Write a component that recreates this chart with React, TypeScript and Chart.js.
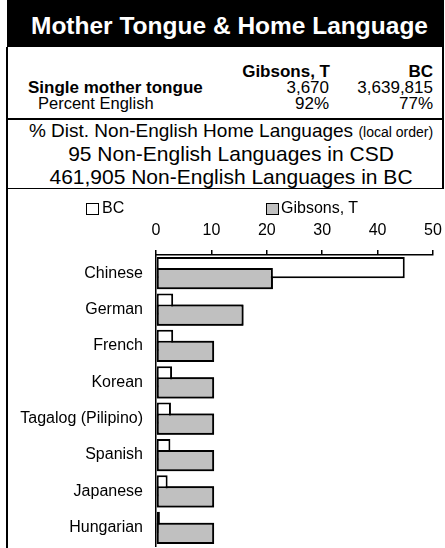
import React, { useEffect, useRef } from "react";
import { Chart, registerables } from "chart.js";

Chart.register(...registerables);

const FONT = '"Liberation Sans", Arial, Helvetica, sans-serif';

// ---- data ----
const categories = [
  "Chinese",
  "German",
  "French",
  "Korean",
  "Tagalog (Pilipino)",
  "Spanish",
  "Japanese",
  "Hungarian",
];
const seriesNames = ["BC", "Gibsons, T"];
const bcValues = [44.9, 3.1, 3.1, 2.9, 2.7, 2.6, 2.1, 0.7];
const gibsonsValues = [21.1, 15.8, 10.5, 10.5, 10.5, 10.5, 10.5, 10.5];
const xTickValues = [0, 10, 20, 30, 40, 50];

const tableColumns = ["Gibsons, T", "BC"];
const singleMotherTongue = ["3,670", "3,639,815"];
const percentEnglish = ["92%", "77%"];

type TxtProps = {
  x: number;
  baseline: number;
  size: number;
  bold?: boolean;
  align?: "left" | "right" | "center";
  color?: string;
  children: React.ReactNode;
};

function Txt({ x, baseline, size, bold, align = "left", color = "#000", children }: TxtProps) {
  const top = baseline - 0.8465 * size;
  const style: React.CSSProperties = {
    position: "absolute",
    top,
    fontFamily: FONT,
    fontSize: size,
    fontWeight: bold ? "bold" : "normal",
    lineHeight: `${size}px`,
    whiteSpace: "nowrap",
    color,
  };
  if (align === "left") style.left = x;
  else if (align === "right") style.right = 445 - x;
  else {
    style.left = x - 300;
    style.width = 600;
    style.textAlign = "center";
  }
  return <span style={style}>{children}</span>;
}

const gibsonsOnTop = {
  id: "gibsonsOnTop",
  afterDatasetsDraw(chart: any) {
    const meta = chart.getDatasetMeta(1);
    const ctx = chart.ctx;
    ctx.save();
    meta.data.forEach((el: any) => el.draw(ctx));
    ctx.restore();
  },
};

function BarChart() {
  const ref = useRef<HTMLCanvasElement | null>(null);
  useEffect(() => {
    if (!ref.current) return;
    const tickFont = { family: FONT, size: 16 };
    const chart = new Chart(ref.current, {
      type: "bar",
      data: {
        labels: categories,
        datasets: [
          {
            label: seriesNames[0],
            data: bcValues,
            backgroundColor: "#ffffff",
            borderColor: "#000000",
            borderWidth: 2,
            borderSkipped: false,
            categoryPercentage: 0.6,
            barPercentage: 1.95,
          },
          {
            label: seriesNames[1],
            data: gibsonsValues,
            backgroundColor: "#c0c0c0",
            borderColor: "#000000",
            borderWidth: 2,
            borderSkipped: false,
            categoryPercentage: 0.6,
            barPercentage: 1.95,
          },
        ],
      },
      options: {
        indexAxis: "y",
        responsive: false,
        animation: false,
        layout: { padding: { top: 0, right: 12, bottom: 2, left: 0 } },
        plugins: {
          legend: { display: false },
          tooltip: { enabled: false },
        },
        scales: {
          x: {
            position: "top",
            min: 0,
            max: 50,
            afterBuildTicks: (s: any) => {
              s.ticks = xTickValues.map((v) => ({ value: v }));
            },
            afterFit: (s: any) => {
              s.height = 67;
              s.paddingLeft = 0;
              s.paddingRight = 0;
            },
            ticks: { font: tickFont, color: "#000", padding: 10, maxRotation: 0 },
            grid: { drawOnChartArea: false, tickLength: 5, color: "#000", lineWidth: 1.5 },
            border: { color: "#000", width: 1.5 },
          },
          y: {
            afterFit: (s: any) => {
              s.width = 156;
              s.paddingTop = 0;
              s.paddingBottom = 0;
            },
            ticks: { font: tickFont, color: "#000", padding: 13 },
            grid: { drawOnChartArea: false, drawTicks: false, color: "#000" },
            border: { color: "#000", width: 1.5 },
          },
        },
      } as any,
      plugins: [gibsonsOnTop],
    });
    return () => chart.destroy();
  }, []);
  return (
    <canvas
      ref={ref}
      width={445}
      height={360}
      style={{ position: "absolute", left: 0, top: 188, width: 445, height: 360 }}
    />
  );
}

export default function App() {
  const box = (color: string, left: number): React.CSSProperties => ({
    position: "absolute",
    left,
    top: 202.5,
    width: 13,
    height: 12,
    boxSizing: "border-box",
    border: "1.5px solid #000",
    background: color,
  });
  return (
    <div
      style={{
        position: "absolute",
        left: 0,
        top: 0,
        width: 445,
        height: 548,
        background: "#fff",
        overflow: "hidden",
        fontFamily: FONT,
      }}
    >
      {/* title bar */}
      <div style={{ position: "absolute", left: 7, top: 0, width: 437, height: 47, background: "#000" }} />
      <Txt x={229.5} baseline={35} size={24.5} bold align="center" color="#fff">
        Mother Tongue &amp; Home Language
      </Txt>

      {/* table box */}
      <div
        style={{
          position: "absolute",
          left: 6,
          top: 47,
          width: 438,
          height: 73,
          boxSizing: "border-box",
          borderLeft: "2px solid #000",
          borderRight: "2px solid #000",
          borderBottom: "2px solid #000",
        }}
      />
      <Txt x={330} baseline={77} size={17} bold align="right">{tableColumns[0]}</Txt>
      <Txt x={433} baseline={77} size={17} bold align="right">{tableColumns[1]}</Txt>
      <Txt x={28} baseline={93} size={17} bold>Single mother tongue</Txt>
      <Txt x={329} baseline={93} size={17} align="right">{singleMotherTongue[0]}</Txt>
      <Txt x={433} baseline={93} size={17} align="right">{singleMotherTongue[1]}</Txt>
      <Txt x={38} baseline={109} size={16.5}>Percent English</Txt>
      <Txt x={329} baseline={109} size={17} align="right">{percentEnglish[0]}</Txt>
      <Txt x={433} baseline={109} size={17} align="right">{percentEnglish[1]}</Txt>

      {/* info box */}
      <div
        style={{
          position: "absolute",
          left: 6,
          top: 120,
          width: 438,
          height: 69,
          boxSizing: "border-box",
          borderLeft: "2px solid #000",
          borderRight: "2px solid #000",
          borderBottom: "1px solid #000",
        }}
      />
      <Txt x={231} baseline={137} size={19} align="center">
        % Dist. Non-English Home Languages <span style={{ fontSize: 14 }}>(local order)</span>
      </Txt>
      <Txt x={231} baseline={161} size={21} align="center">95 Non-English Languages in CSD</Txt>
      <Txt x={231} baseline={183.5} size={21} align="center">461,905 Non-English Languages in BC</Txt>

      {/* chart left border */}
      <div style={{ position: "absolute", left: 6, top: 189, width: 2, height: 359, background: "#000" }} />

      <BarChart />

      {/* legend */}
      <div style={box("#ffffff", 86)} />
      <Txt x={102} baseline={214} size={16}>{seriesNames[0]}</Txt>
      <div style={box("#c0c0c0", 265.5)} />
      <Txt x={281} baseline={214} size={16}>{seriesNames[1]}</Txt>
    </div>
  );
}
